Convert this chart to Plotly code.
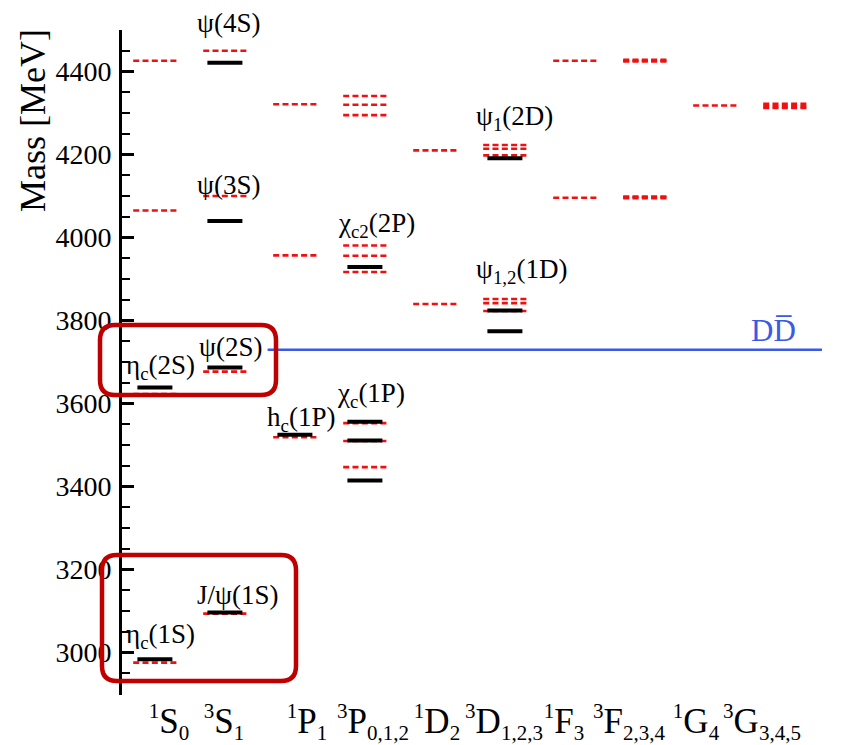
import plotly.graph_objects as go

# ---------------- data ----------------
cat_letter = ["S", "S", "P", "P", "D", "D", "F", "F", "G", "G"]
cat_mult = ["1", "3", "1", "3", "1", "3", "1", "3", "1", "3"]
cat_j = ["0", "1", "1", "0,1,2", "2", "1,2,3", "3", "2,3,4", "4", "3,4,5"]

# experimental levels (black solid): column index, mass [MeV]
exp_col = [0, 0, 1, 1, 1, 1, 2, 3, 3, 3, 3, 5, 5, 5]
exp_mass = [2984, 3639, 3097, 3687, 4040, 4421, 3525, 3415, 3511, 3556, 3929, 3774, 3824, 4191]

# model levels (red dashed): column index, mass [MeV]
th_col = [0, 0, 0, 0,
          1, 1, 1, 1,
          2, 2, 2,
          3, 3, 3, 3, 3, 3, 3, 3, 3,
          4, 4,
          5, 5, 5, 5, 5, 5,
          6, 6,
          7, 7, 7, 7, 7, 7,
          8,
          9, 9, 9]
th_mass = [2976, 3623, 4065, 4426,
           3094, 3677, 4100, 4450,
           3519, 3957, 4321,
           3447, 3510, 3553, 3917, 3956, 3981, 4295, 4320, 4341,
           3840, 4210,
           3823, 3842, 3852, 4198, 4214, 4223,
           4096, 4426,
           4095, 4097, 4099, 4424, 4426, 4428,
           4318,
           4312, 4316, 4322]

dd_threshold = 3730

level_labels = ["ψ(4S)", "ψ(3S)", "ψ<sub>1</sub>(2D)", "χ<sub>c2</sub>(2P)", "ψ<sub>1,2</sub>(1D)",
                "η<sub>c</sub>(2S)", "ψ(2S)", "h<sub>c</sub>(1P)", "χ<sub>c</sub>(1P)",
                "J/ψ(1S)", "η<sub>c</sub>(1S)"]

# ---------------- layout geometry ----------------
W, H = 849, 745
L, R, T, B = 122, 27, 30, 50
PW, PH = W - L - R, H - T - B
X_MIN, X_MAX = -0.47, 9.53

def fx(p):
    return (p - L) / PW

def fy(p):
    return (H - B - p) / PH

def px_to_x(p):
    return X_MIN + (p - L) / PW * (X_MAX - X_MIN)

RED_HW = 0.31   # half width of model level (x units)
BLK_HW = 0.25   # half width of experimental level

def segs(cols, masses, hw):
    xs, ys = [], []
    for c, m in zip(cols, masses):
        xs += [c - hw, c + hw, None]
        ys += [m, m, None]
    return xs, ys

fig = go.Figure()

tx, ty = segs(th_col, th_mass, RED_HW)
fig.add_trace(go.Scatter(x=tx, y=ty, mode="lines", connectgaps=False,
                         line=dict(color="#f01010", width=2.6, dash="6px,3.3px"),
                         hoverinfo="skip", showlegend=False))

ex, ey = segs(exp_col, exp_mass, BLK_HW)
fig.add_trace(go.Scatter(x=ex, y=ey, mode="lines", connectgaps=False,
                         line=dict(color="black", width=4),
                         hoverinfo="skip", showlegend=False))

fig.add_trace(go.Scatter(x=[1.61, X_MAX], y=[dd_threshold, dd_threshold], mode="lines",
                         line=dict(color="#3a5ae6", width=2.5),
                         hoverinfo="skip", showlegend=False))

SERIF = "Liberation Serif"
SMALL = 21
ticktext = [f"<sup><span style='font-size:{SMALL}px'>{m}</span></sup>{l}"
            f"<sub><span style='font-size:{SMALL}px'>{j}</span></sub>"
            for m, l, j in zip(cat_mult, cat_letter, cat_j)]
# horizontal label centres (pixels) as typeset in the reference
label_center_px = [169, 224, 307, 373, 437, 504, 564, 629, 696, 762]
tickvals = [px_to_x(p) for p in label_center_px]

fig.update_layout(
    width=W, height=H,
    margin=dict(l=L, r=R, t=T, b=B, autoexpand=False),
    paper_bgcolor="white", plot_bgcolor="white",
    font=dict(family=SERIF, color="black"),
    xaxis=dict(range=[X_MIN, X_MAX], showgrid=False, zeroline=False, showline=False,
               ticks="", automargin=False, tickangle=0,
               tickmode="array", tickvals=tickvals, ticktext=ticktext,
               tickfont=dict(family=SERIF, size=35, color="black"), ticklabelstandoff=2),
    yaxis=dict(range=[2898, 4500], showgrid=False, zeroline=False, automargin=False,
               showline=True, linecolor="black", linewidth=3,
               ticks="inside", ticklen=12, tickwidth=2.5, tickcolor="black",
               tick0=3000, dtick=200,
               minor=dict(ticks="inside", ticklen=8, tickwidth=2, tickcolor="black", dtick=50),
               tickfont=dict(family=SERIF, size=28, color="black"), ticklabelstandoff=2),
)

# level labels (pixel centres of the text in the reference)
label_pos = [(228, 23), (228, 185), (514, 118), (376, 225), (522, 271),
             (160, 367), (230, 347), (301, 419), (371, 395), (237, 595), (160, 636)]
for txt, (px, py) in zip(level_labels, label_pos):
    fig.add_annotation(text=txt, x=fx(px), y=fy(py), xref="paper", yref="paper",
                       xanchor="center", yanchor="middle", showarrow=False,
                       font=dict(family=SERIF, size=27, color="black"))

fig.add_annotation(text="DD\u0305", x=fx(773), y=fy(330), xref="paper", yref="paper",
                   xanchor="center", yanchor="middle", showarrow=False,
                   font=dict(family=SERIF, size=31, color="#3a5ae6"))

fig.add_annotation(text="Mass [MeV]", x=fx(33), y=fy(121), xref="paper", yref="paper",
                   xanchor="center", yanchor="middle", textangle=-90, showarrow=False,
                   font=dict(family=SERIF, size=36, color="black"))

def rounded_box(x0, y0, x1, y1, r):
    def P(a, b):
        return f"{fx(a):.5f},{fy(b):.5f}"
    return (f"M {P(x0 + r, y0)} L {P(x1 - r, y0)} Q {P(x1, y0)} {P(x1, y0 + r)} "
            f"L {P(x1, y1 - r)} Q {P(x1, y1)} {P(x1 - r, y1)} "
            f"L {P(x0 + r, y1)} Q {P(x0, y1)} {P(x0, y1 - r)} "
            f"L {P(x0, y0 + r)} Q {P(x0, y0)} {P(x0 + r, y0)} Z")

for box in [(100, 325, 276, 395), (102, 555, 296, 681)]:
    fig.add_shape(type="path", path=rounded_box(*box, 15), xref="paper", yref="paper",
                  line=dict(color="#c00000", width=4.5), fillcolor="rgba(0,0,0,0)")

fig.write_html("out.html", config={"displayModeBar": False},
               post_script="document.body.style.margin='0px';document.body.style.overflow='hidden';")
